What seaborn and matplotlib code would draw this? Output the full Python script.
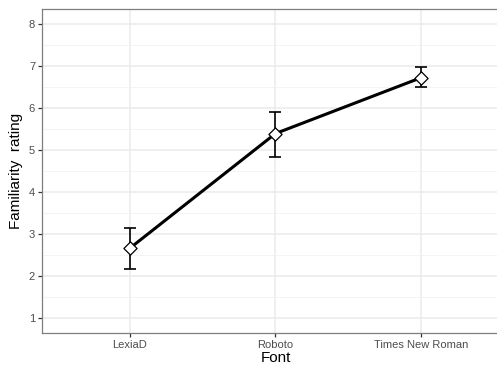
import matplotlib
matplotlib.use("Agg")
import matplotlib.pyplot as plt
import matplotlib.ticker as mticker
import pandas as pd
import seaborn as sns

# ─── Datos ────────────────────────────────────────────────────────────────────
fuentes = ["LexiaD", "Roboto", "Times New Roman"]
media = [2.66, 5.39, 6.72]
err_inf = [2.16, 4.84, 6.50]
err_sup = [3.14, 5.91, 6.96]

df = pd.DataFrame({"Font": fuentes, "rating": media})

# ─── Estilo ───────────────────────────────────────────────────────────────────
sns.set_theme(style="white")
plt.rcParams["font.family"] = ["Liberation Sans", "DejaVu Sans"]

fig = plt.figure(figsize=(4.97, 3.67), dpi=100)
ax = fig.add_axes([0.0845, 0.0926, 0.9396, 0.883])

sns.lineplot(data=df, x="Font", y="rating", ax=ax, color="black",
             linewidth=2.2, sort=False, zorder=3)
ax.errorbar(range(len(fuentes)), media,
            yerr=[[m - lo for m, lo in zip(media, err_inf)],
                  [hi - m for m, hi in zip(media, err_sup)]],
            fmt="none", ecolor="black", elinewidth=1.2, capsize=4.5,
            capthick=1.2, zorder=4)
sns.scatterplot(data=df, x="Font", y="rating", ax=ax, marker="D", s=45,
                facecolor="white", edgecolor="black", linewidth=0.9, zorder=5)

ax.set_xlim(-0.6, 2.6)
ax.set_ylim(0.65, 8.35)
ax.yaxis.set_major_locator(mticker.MultipleLocator(1))
ax.yaxis.set_minor_locator(mticker.MultipleLocator(0.5))
ax.set_yticks(range(1, 9))

ax.grid(which="major", color="#ebebeb", linewidth=1.1)
ax.grid(which="minor", axis="y", color="#f2f2f2", linewidth=0.6)
ax.set_axisbelow(True)
for s in ax.spines.values():
    s.set_color("#7f7f7f")
    s.set_linewidth(0.9)

ax.tick_params(axis="both", which="major", length=3, width=0.9, color="#333333",
               labelsize=8, labelcolor="#4d4d4d", pad=2, bottom=True, left=True)
ax.tick_params(axis="both", which="minor", length=0)

ax.set_xlabel("Font", fontsize=11, color="black", labelpad=1)
ax.set_ylabel("Familiarity  rating", fontsize=11, color="black", labelpad=4)

plt.savefig("out.png", dpi=100)
plt.close()
